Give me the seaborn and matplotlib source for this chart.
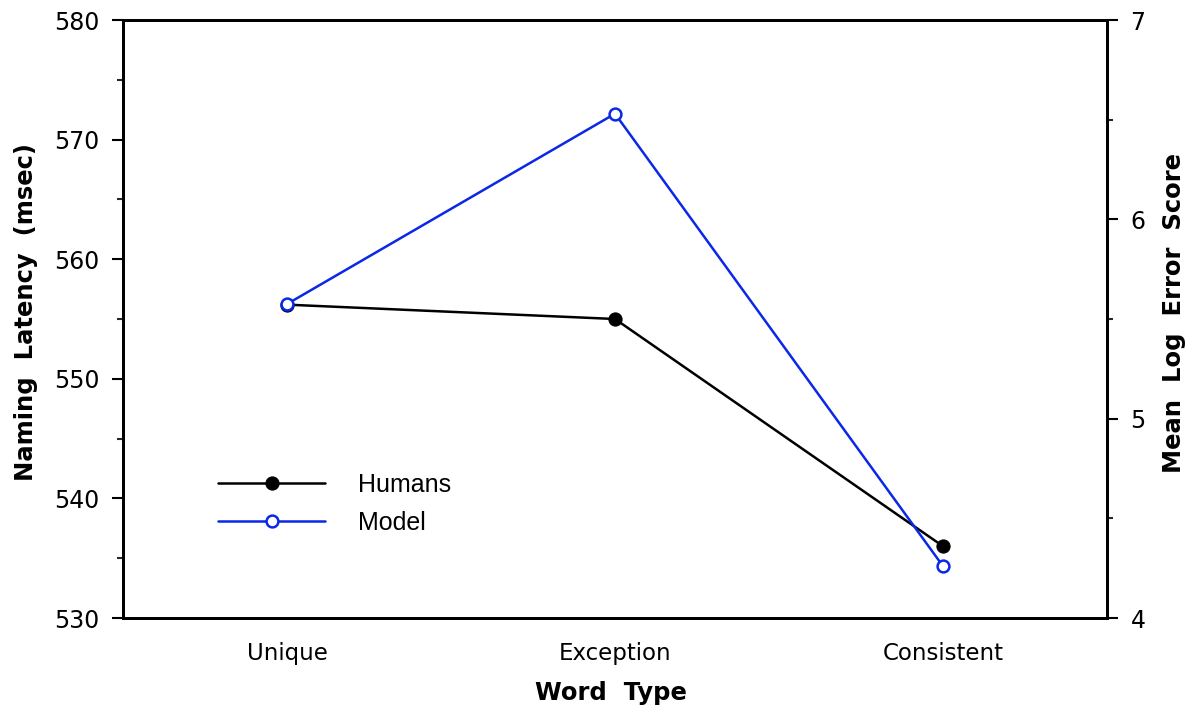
import matplotlib
matplotlib.use("Agg")
import matplotlib.pyplot as plt
import seaborn as sns
import pandas as pd
from matplotlib.ticker import MultipleLocator

categories = ["Unique", "Exception", "Consistent"]
humans_latency = [556.2, 555.0, 536.0]
model_error = [5.575, 6.53, 4.26]

sns.set_style("white")
plt.rcParams['font.family'] = ['DejaVu Sans']
plt.rcParams['text.color'] = 'black'
plt.rcParams['axes.labelcolor'] = 'black'

df_h = pd.DataFrame({"pos": range(len(categories)), "val": humans_latency})
df_m = pd.DataFrame({"pos": range(len(categories)), "val": model_error})

fig = plt.figure(figsize=(11.96, 7.11), dpi=100)
ax = fig.add_axes([123/1196, 93/711, (1107-123)/1196, (618-20)/711])
ax2 = ax.twinx()

sns.lineplot(data=df_h, x="pos", y="val", ax=ax, color="black", lw=1.8,
             marker="o", markersize=9.5, markerfacecolor="black",
             markeredgecolor="black", label="Humans", legend=False)
sns.lineplot(data=df_m, x="pos", y="val", ax=ax2, color="#0a28e6", lw=1.8,
             marker="o", markersize=8.5, markerfacecolor="white",
             markeredgecolor="#0a28e6", markeredgewidth=1.8, label="Model", legend=False)

ax.set_xlim(-0.5, 2.5)
ax.set_ylim(530, 580)
ax2.set_ylim(4, 7)

ax.set_xticks(range(len(categories)))
ax.set_xticklabels(categories, fontsize=16.5)
ax.yaxis.set_major_locator(MultipleLocator(10))
ax.yaxis.set_minor_locator(MultipleLocator(5))
ax2.yaxis.set_major_locator(MultipleLocator(1))
ax2.yaxis.set_minor_locator(MultipleLocator(0.5))

for a in (ax, ax2):
    for s in a.spines.values():
        s.set_linewidth(2)
        s.set_color("black")
    a.tick_params(axis="y", which="major", direction="out", length=8, width=1.5,
                  labelsize=17, colors="black", pad=9)
    a.tick_params(axis="y", which="minor", direction="out", length=4.5, width=1.5)
ax.tick_params(axis="x", which="major", direction="out", length=7, width=1.5,
               colors="black", pad=10)
ax.tick_params(axis="y", which="minor", left=True)
ax2.tick_params(axis="y", which="minor", right=True)

labfont = dict(fontfamily="DejaVu Sans", fontweight="bold", fontsize=17.5, color="black")
ax.set_xlabel("Word  Type", **labfont)
ax.set_ylabel("Naming  Latency  (msec)", **labfont)
ax2.set_ylabel("Mean  Log  Error  Score", **labfont)
ax2.set_xlabel("")
ax.xaxis.set_label_coords(0.496, -0.106)
ax.yaxis.set_label_coords(-0.086, 0.512)
ax2.yaxis.set_label_coords(1.056, 0.51)

h1, l1 = ax.get_legend_handles_labels()
h2, l2 = ax2.get_legend_handles_labels()
leg = ax.legend(h1 + h2, l1 + l2, loc="upper left", bbox_to_anchor=(0.0965, 0.2425),
                frameon=False, handlelength=4.3, handletextpad=1.3, labelspacing=0.55,
                borderpad=0, borderaxespad=0,
                prop={"family": "Liberation Sans", "size": 18})
for t in leg.get_texts():
    t.set_color("black")

fig.savefig("out.png", dpi=100)
